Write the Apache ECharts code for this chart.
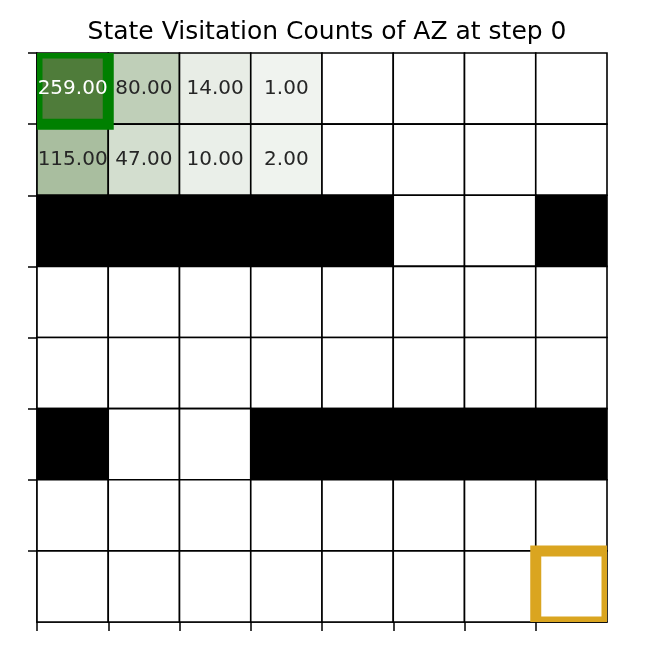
<!DOCTYPE html>
<html>
<head>
<meta charset="utf-8">
<script src="https://cdn.jsdelivr.net/npm/echarts@6/dist/echarts.min.js"></script>
<style>html,body{margin:0;padding:0;background:#fff}#c{width:654px;height:654px}</style>
</head>
<body>
<div id="c"></div>
<script>
// ---- data ----
var titleText = 'State Visitation Counts of AZ at step 0';
var rowsCount = 8;
var colsCount = 8;
var counts = [
  [259, 80, 14, 1, 0, 0, 0, 0],
  [115, 47, 10, 2, 0, 0, 0, 0],
  [0, 0, 0, 0, 0, 0, 0, 0],
  [0, 0, 0, 0, 0, 0, 0, 0],
  [0, 0, 0, 0, 0, 0, 0, 0],
  [0, 0, 0, 0, 0, 0, 0, 0],
  [0, 0, 0, 0, 0, 0, 0, 0],
  [0, 0, 0, 0, 0, 0, 0, 0]
];
// walls: [row, col]
var walls = [[2,0],[2,1],[2,2],[2,3],[2,4],[2,7],[5,0],[5,3],[5,4],[5,5],[5,6],[5,7]];
var startCell = [0, 0]; // [row, col]
var goalCell = [7, 7];
var tickValues = [0, 1, 2, 3, 4, 5, 6, 7];

// ---- build ----
var isWall = {};
walls.forEach(function (w) { isWall[w[0] + '_' + w[1]] = true; });
var cellData = [];
var labelData = [];
var maxCount = 0;
for (var r = 0; r < rowsCount; r++) {
  for (var c = 0; c < colsCount; c++) {
    var v = counts[r][c];
    if (v > maxCount) maxCount = v;
    var w = isWall[r + '_' + c] ? 1 : 0;
    cellData.push([c, r, v, w]);
    if (v > 0 && !w) labelData.push([c, r, v]);
  }
}
var lowC = [240, 243, 239], highC = [79, 124, 58];
function cmap(v) {
  if (v <= 0) return '#ffffff';
  var t = (v - 1) / (maxCount - 1);
  var rgb = lowC.map(function (a, i) { return Math.round(a + (highC[i] - a) * t); });
  return 'rgb(' + rgb.join(',') + ')';
}
function makeAxis(extra) {
  var a = {
    type: 'value', min: 0, max: 8,
    axisLabel: {show: false},
    splitLine: {show: false},
    axisLine: {show: true, onZero: false, lineStyle: {color: '#000', width: 1.5}},
    axisTick: {show: true, customValues: tickValues.slice(), length: 9, lineStyle: {color: '#000', width: 1.5}}
  };
  for (var k in extra) a[k] = extra[k];
  return a;
}

var chart = echarts.init(document.getElementById('c'), null, {renderer: 'canvas'});
chart.setOption({
  animation: false,
  title: {
    text: titleText, left: 'center', top: 15,
    textStyle: {fontFamily: 'DejaVu Sans', fontSize: 25, fontWeight: 'normal', color: '#000'}
  },
  grid: {left: 37, top: 53, width: 570, height: 569},
  xAxis: makeAxis({position: 'bottom'}),
  yAxis: makeAxis({inverse: true, position: 'left'}),
  series: [
    {
      type: 'custom', data: cellData, z: 2,
      renderItem: function (params, api) {
        var x = api.value(0), y = api.value(1), v = api.value(2), w = api.value(3);
        var p0 = api.coord([x, y]), p1 = api.coord([x + 1, y + 1]);
        return {
          type: 'rect',
          shape: {x: p0[0], y: p0[1], width: p1[0] - p0[0], height: p1[1] - p0[1]},
          style: {fill: w ? '#000000' : cmap(v), stroke: '#000', lineWidth: 1.6}
        };
      }
    },
    {
      type: 'custom', z: 3, clip: true,
      data: [[startCell[1], startCell[0], 0], [goalCell[1], goalCell[0], 1]],
      renderItem: function (params, api) {
        var x = api.value(0), y = api.value(1), k = api.value(2);
        var p0 = api.coord([x, y]), p1 = api.coord([x + 1, y + 1]);
        return {
          type: 'rect',
          shape: {x: p0[0], y: p0[1], width: p1[0] - p0[0], height: p1[1] - p0[1]},
          style: {fill: 'none', stroke: k ? '#DAA520' : '#008000', lineWidth: 11}
        };
      }
    },
    {
      type: 'custom', z: 4, data: labelData,
      renderItem: function (params, api) {
        var x = api.value(0), y = api.value(1), v = api.value(2);
        var p = api.coord([x + 0.5, y + 0.5]);
        return {
          type: 'text',
          x: p[0], y: p[1],
          style: {
            text: v.toFixed(2), align: 'center', verticalAlign: 'middle',
            fontFamily: 'DejaVu Sans', fontSize: 20,
            fill: v / maxCount > 0.5 ? '#ffffff' : '#262626'
          }
        };
      }
    }
  ]
});
</script>
</body>
</html>
